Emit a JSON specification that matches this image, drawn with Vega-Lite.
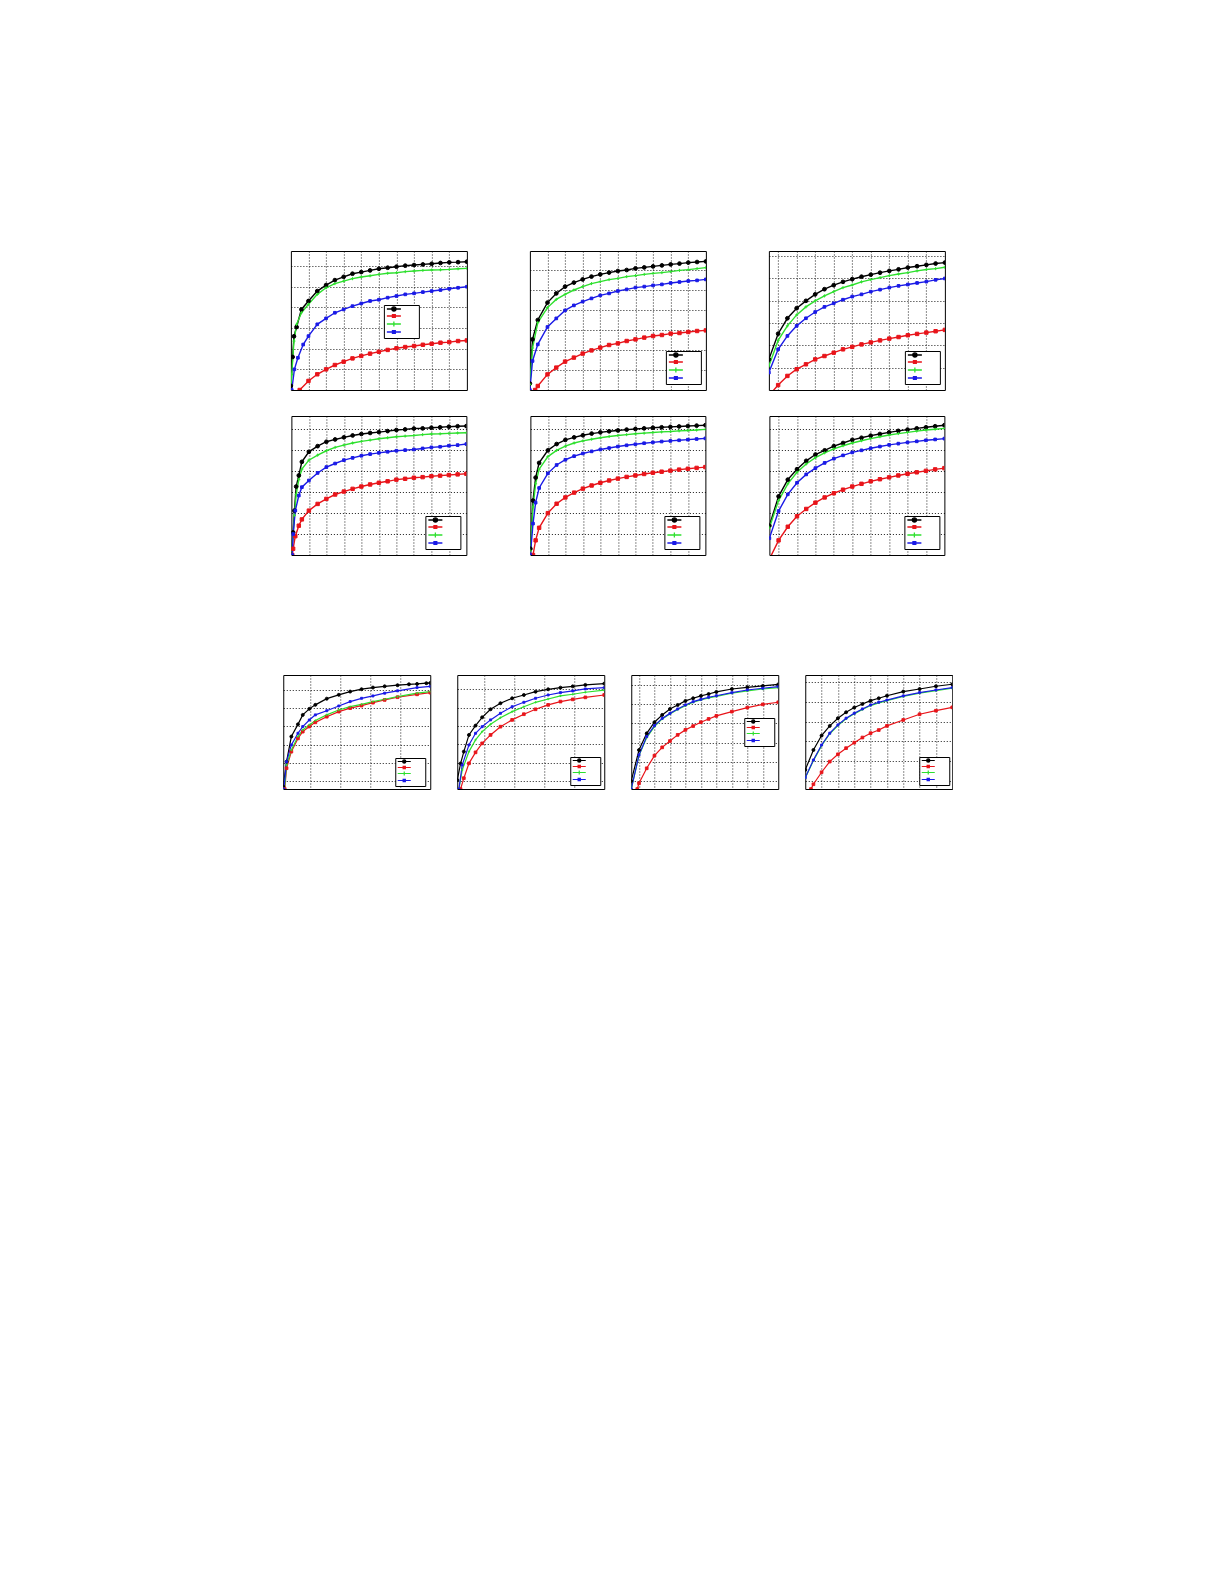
{
"$schema":"https://vega.github.io/schema/vega-lite/v6.json",
"background":"white",
"padding":{"left":282,"top":250,"right":0,"bottom":0},
"data":{"values":[
{"p":1,"s":"a","x":0,"y":0.2},{"p":1,"s":"a","x":0.2,"y":1.6},{"p":1,"s":"a","x":0.35,"y":2.6},{"p":1,"s":"a","x":0.65,"y":3.05},{"p":1,"s":"a","x":1.2,"y":3.9},{"p":1,"s":"a","x":2,"y":4.31},{"p":1,"s":"a","x":3,"y":4.79},{"p":1,"s":"a","x":4,"y":5.08},{"p":1,"s":"a","x":5,"y":5.32},{"p":1,"s":"a","x":6,"y":5.48},{"p":1,"s":"a","x":7,"y":5.63},{"p":1,"s":"a","x":8,"y":5.71},{"p":1,"s":"a","x":9,"y":5.79},{"p":1,"s":"a","x":10,"y":5.87},{"p":1,"s":"a","x":11,"y":5.92},{"p":1,"s":"a","x":12,"y":5.97},{"p":1,"s":"a","x":13,"y":6.02},{"p":1,"s":"a","x":14,"y":6.05},{"p":1,"s":"a","x":15,"y":6.08},{"p":1,"s":"a","x":16,"y":6.11},{"p":1,"s":"a","x":17,"y":6.15},{"p":1,"s":"a","x":18,"y":6.18},{"p":1,"s":"a","x":19,"y":6.19},{"p":1,"s":"a","x":20,"y":6.21},
{"p":1,"s":"b","x":1,"y":0},{"p":1,"s":"b","x":2,"y":0.44},{"p":1,"s":"b","x":3,"y":0.76},{"p":1,"s":"b","x":4,"y":1.0},{"p":1,"s":"b","x":5,"y":1.21},{"p":1,"s":"b","x":6,"y":1.37},{"p":1,"s":"b","x":7,"y":1.53},{"p":1,"s":"b","x":8,"y":1.65},{"p":1,"s":"b","x":9,"y":1.76},{"p":1,"s":"b","x":10,"y":1.85},{"p":1,"s":"b","x":11,"y":1.94},{"p":1,"s":"b","x":12,"y":2.02},{"p":1,"s":"b","x":13,"y":2.08},{"p":1,"s":"b","x":14,"y":2.13},{"p":1,"s":"b","x":15,"y":2.19},{"p":1,"s":"b","x":16,"y":2.24},{"p":1,"s":"b","x":17,"y":2.29},{"p":1,"s":"b","x":18,"y":2.32},{"p":1,"s":"b","x":19,"y":2.37},{"p":1,"s":"b","x":20,"y":2.4},
{"p":1,"s":"c","x":0,"y":0},{"p":1,"s":"c","x":0.1,"y":0.76},{"p":1,"s":"c","x":0.35,"y":2.37},{"p":1,"s":"c","x":0.65,"y":3.18},{"p":1,"s":"c","x":1.2,"y":3.74},{"p":1,"s":"c","x":2,"y":4.15},{"p":1,"s":"c","x":3,"y":4.63},{"p":1,"s":"c","x":4,"y":4.95},{"p":1,"s":"c","x":5,"y":5.15},{"p":1,"s":"c","x":6,"y":5.27},{"p":1,"s":"c","x":7,"y":5.39},{"p":1,"s":"c","x":8,"y":5.47},{"p":1,"s":"c","x":9,"y":5.53},{"p":1,"s":"c","x":10,"y":5.6},{"p":1,"s":"c","x":11,"y":5.65},{"p":1,"s":"c","x":12,"y":5.68},{"p":1,"s":"c","x":13,"y":5.73},{"p":1,"s":"c","x":14,"y":5.76},{"p":1,"s":"c","x":15,"y":5.79},{"p":1,"s":"c","x":16,"y":5.81},{"p":1,"s":"c","x":17,"y":5.82},{"p":1,"s":"c","x":18,"y":5.84},{"p":1,"s":"c","x":19,"y":5.87},{"p":1,"s":"c","x":20,"y":5.89},
{"p":1,"s":"d","x":0.1,"y":0},{"p":1,"s":"d","x":0.4,"y":1.0},{"p":1,"s":"d","x":0.8,"y":1.56},{"p":1,"s":"d","x":1.4,"y":2.2},{"p":1,"s":"d","x":2,"y":2.61},{"p":1,"s":"d","x":3,"y":3.18},{"p":1,"s":"d","x":4,"y":3.47},{"p":1,"s":"d","x":5,"y":3.74},{"p":1,"s":"d","x":6,"y":3.9},{"p":1,"s":"d","x":7,"y":4.06},{"p":1,"s":"d","x":8,"y":4.19},{"p":1,"s":"d","x":9,"y":4.31},{"p":1,"s":"d","x":10,"y":4.37},{"p":1,"s":"d","x":11,"y":4.47},{"p":1,"s":"d","x":12,"y":4.55},{"p":1,"s":"d","x":13,"y":4.63},{"p":1,"s":"d","x":14,"y":4.68},{"p":1,"s":"d","x":15,"y":4.74},{"p":1,"s":"d","x":16,"y":4.79},{"p":1,"s":"d","x":17,"y":4.84},{"p":1,"s":"d","x":18,"y":4.9},{"p":1,"s":"d","x":19,"y":4.95},{"p":1,"s":"d","x":20,"y":5.0},
{"p":2,"s":"a","x":0,"y":0.32},{"p":2,"s":"a","x":0.3,"y":2.53},{"p":2,"s":"a","x":0.9,"y":3.5},{"p":2,"s":"a","x":2,"y":4.37},{"p":2,"s":"a","x":3,"y":4.83},{"p":2,"s":"a","x":4,"y":5.17},{"p":2,"s":"a","x":5,"y":5.37},{"p":2,"s":"a","x":6,"y":5.53},{"p":2,"s":"a","x":7,"y":5.67},{"p":2,"s":"a","x":8,"y":5.78},{"p":2,"s":"a","x":9,"y":5.87},{"p":2,"s":"a","x":10,"y":5.95},{"p":2,"s":"a","x":11,"y":6.0},{"p":2,"s":"a","x":12,"y":6.08},{"p":2,"s":"a","x":13,"y":6.13},{"p":2,"s":"a","x":14,"y":6.18},{"p":2,"s":"a","x":15,"y":6.23},{"p":2,"s":"a","x":16,"y":6.28},{"p":2,"s":"a","x":17,"y":6.32},{"p":2,"s":"a","x":18,"y":6.37},{"p":2,"s":"a","x":19,"y":6.4},{"p":2,"s":"a","x":20,"y":6.43},
{"p":2,"s":"b","x":0.6,"y":0},{"p":2,"s":"b","x":0.9,"y":0.2},{"p":2,"s":"b","x":2,"y":0.78},{"p":2,"s":"b","x":3,"y":1.12},{"p":2,"s":"b","x":4,"y":1.42},{"p":2,"s":"b","x":5,"y":1.62},{"p":2,"s":"b","x":6,"y":1.82},{"p":2,"s":"b","x":7,"y":1.98},{"p":2,"s":"b","x":8,"y":2.12},{"p":2,"s":"b","x":9,"y":2.25},{"p":2,"s":"b","x":10,"y":2.33},{"p":2,"s":"b","x":11,"y":2.45},{"p":2,"s":"b","x":12,"y":2.53},{"p":2,"s":"b","x":13,"y":2.62},{"p":2,"s":"b","x":14,"y":2.7},{"p":2,"s":"b","x":15,"y":2.75},{"p":2,"s":"b","x":16,"y":2.82},{"p":2,"s":"b","x":17,"y":2.85},{"p":2,"s":"b","x":18,"y":2.9},{"p":2,"s":"b","x":19,"y":2.95},{"p":2,"s":"b","x":20,"y":2.98},
{"p":2,"s":"c","x":0,"y":0.28},{"p":2,"s":"c","x":0.3,"y":2.1},{"p":2,"s":"c","x":0.9,"y":3.37},{"p":2,"s":"c","x":2,"y":4.12},{"p":2,"s":"c","x":3,"y":4.53},{"p":2,"s":"c","x":4,"y":4.78},{"p":2,"s":"c","x":5,"y":5.0},{"p":2,"s":"c","x":6,"y":5.17},{"p":2,"s":"c","x":7,"y":5.32},{"p":2,"s":"c","x":8,"y":5.42},{"p":2,"s":"c","x":9,"y":5.52},{"p":2,"s":"c","x":10,"y":5.58},{"p":2,"s":"c","x":11,"y":5.67},{"p":2,"s":"c","x":12,"y":5.72},{"p":2,"s":"c","x":13,"y":5.78},{"p":2,"s":"c","x":14,"y":5.83},{"p":2,"s":"c","x":15,"y":5.87},{"p":2,"s":"c","x":16,"y":5.92},{"p":2,"s":"c","x":17,"y":5.98},{"p":2,"s":"c","x":18,"y":6.02},{"p":2,"s":"c","x":19,"y":6.07},{"p":2,"s":"c","x":20,"y":6.12},
{"p":2,"s":"d","x":0,"y":0},{"p":2,"s":"d","x":0.3,"y":1.45},{"p":2,"s":"d","x":0.9,"y":2.28},{"p":2,"s":"d","x":2,"y":3.15},{"p":2,"s":"d","x":3,"y":3.58},{"p":2,"s":"d","x":4,"y":3.98},{"p":2,"s":"d","x":5,"y":4.23},{"p":2,"s":"d","x":6,"y":4.42},{"p":2,"s":"d","x":7,"y":4.58},{"p":2,"s":"d","x":8,"y":4.73},{"p":2,"s":"d","x":9,"y":4.83},{"p":2,"s":"d","x":10,"y":4.95},{"p":2,"s":"d","x":11,"y":5.03},{"p":2,"s":"d","x":12,"y":5.12},{"p":2,"s":"d","x":13,"y":5.17},{"p":2,"s":"d","x":14,"y":5.23},{"p":2,"s":"d","x":15,"y":5.28},{"p":2,"s":"d","x":16,"y":5.35},{"p":2,"s":"d","x":17,"y":5.4},{"p":2,"s":"d","x":18,"y":5.45},{"p":2,"s":"d","x":19,"y":5.48},{"p":2,"s":"d","x":20,"y":5.53},
{"p":3,"s":"a","x":1,"y":1.37},{"p":3,"s":"a","x":2,"y":2.52},{"p":3,"s":"a","x":3,"y":3.21},{"p":3,"s":"a","x":4,"y":3.66},{"p":3,"s":"a","x":5,"y":3.99},{"p":3,"s":"a","x":6,"y":4.28},{"p":3,"s":"a","x":7,"y":4.51},{"p":3,"s":"a","x":8,"y":4.69},{"p":3,"s":"a","x":9,"y":4.84},{"p":3,"s":"a","x":10,"y":4.96},{"p":3,"s":"a","x":11,"y":5.07},{"p":3,"s":"a","x":12,"y":5.16},{"p":3,"s":"a","x":13,"y":5.25},{"p":3,"s":"a","x":14,"y":5.33},{"p":3,"s":"a","x":15,"y":5.4},{"p":3,"s":"a","x":16,"y":5.48},{"p":3,"s":"a","x":17,"y":5.54},{"p":3,"s":"a","x":18,"y":5.6},{"p":3,"s":"a","x":19,"y":5.66},{"p":3,"s":"a","x":20,"y":5.7},
{"p":3,"s":"b","x":1,"y":-0.25},{"p":3,"s":"b","x":2,"y":0.22},{"p":3,"s":"b","x":3,"y":0.63},{"p":3,"s":"b","x":4,"y":0.93},{"p":3,"s":"b","x":5,"y":1.15},{"p":3,"s":"b","x":6,"y":1.37},{"p":3,"s":"b","x":7,"y":1.52},{"p":3,"s":"b","x":8,"y":1.67},{"p":3,"s":"b","x":9,"y":1.82},{"p":3,"s":"b","x":10,"y":1.93},{"p":3,"s":"b","x":11,"y":2.04},{"p":3,"s":"b","x":12,"y":2.13},{"p":3,"s":"b","x":13,"y":2.22},{"p":3,"s":"b","x":14,"y":2.3},{"p":3,"s":"b","x":15,"y":2.37},{"p":3,"s":"b","x":16,"y":2.45},{"p":3,"s":"b","x":17,"y":2.51},{"p":3,"s":"b","x":18,"y":2.57},{"p":3,"s":"b","x":19,"y":2.63},{"p":3,"s":"b","x":20,"y":2.69},
{"p":3,"s":"c","x":1,"y":1.07},{"p":3,"s":"c","x":2,"y":2.22},{"p":3,"s":"c","x":3,"y":2.87},{"p":3,"s":"c","x":4,"y":3.36},{"p":3,"s":"c","x":5,"y":3.72},{"p":3,"s":"c","x":6,"y":3.99},{"p":3,"s":"c","x":7,"y":4.21},{"p":3,"s":"c","x":8,"y":4.4},{"p":3,"s":"c","x":9,"y":4.58},{"p":3,"s":"c","x":10,"y":4.7},{"p":3,"s":"c","x":11,"y":4.84},{"p":3,"s":"c","x":12,"y":4.94},{"p":3,"s":"c","x":13,"y":5.03},{"p":3,"s":"c","x":14,"y":5.12},{"p":3,"s":"c","x":15,"y":5.19},{"p":3,"s":"c","x":16,"y":5.25},{"p":3,"s":"c","x":17,"y":5.33},{"p":3,"s":"c","x":18,"y":5.39},{"p":3,"s":"c","x":19,"y":5.43},{"p":3,"s":"c","x":20,"y":5.49},
{"p":3,"s":"d","x":1,"y":0.78},{"p":3,"s":"d","x":2,"y":1.82},{"p":3,"s":"d","x":3,"y":2.42},{"p":3,"s":"d","x":4,"y":2.87},{"p":3,"s":"d","x":5,"y":3.21},{"p":3,"s":"d","x":6,"y":3.49},{"p":3,"s":"d","x":7,"y":3.72},{"p":3,"s":"d","x":8,"y":3.88},{"p":3,"s":"d","x":9,"y":4.04},{"p":3,"s":"d","x":10,"y":4.18},{"p":3,"s":"d","x":11,"y":4.28},{"p":3,"s":"d","x":12,"y":4.4},{"p":3,"s":"d","x":13,"y":4.49},{"p":3,"s":"d","x":14,"y":4.58},{"p":3,"s":"d","x":15,"y":4.66},{"p":3,"s":"d","x":16,"y":4.72},{"p":3,"s":"d","x":17,"y":4.79},{"p":3,"s":"d","x":18,"y":4.85},{"p":3,"s":"d","x":19,"y":4.93},{"p":3,"s":"d","x":20,"y":4.99},
{"p":4,"s":"a","x":0,"y":0},{"p":4,"s":"a","x":0.2,"y":1.08},{"p":4,"s":"a","x":0.35,"y":2.12},{"p":4,"s":"a","x":0.55,"y":3.27},{"p":4,"s":"a","x":0.85,"y":3.8},{"p":4,"s":"a","x":1.2,"y":4.45},{"p":4,"s":"a","x":2,"y":4.93},{"p":4,"s":"a","x":3,"y":5.2},{"p":4,"s":"a","x":4,"y":5.41},{"p":4,"s":"a","x":5,"y":5.52},{"p":4,"s":"a","x":6,"y":5.62},{"p":4,"s":"a","x":7,"y":5.71},{"p":4,"s":"a","x":8,"y":5.78},{"p":4,"s":"a","x":9,"y":5.83},{"p":4,"s":"a","x":10,"y":5.87},{"p":4,"s":"a","x":11,"y":5.92},{"p":4,"s":"a","x":12,"y":5.97},{"p":4,"s":"a","x":13,"y":6.0},{"p":4,"s":"a","x":14,"y":6.04},{"p":4,"s":"a","x":15,"y":6.05},{"p":4,"s":"a","x":16,"y":6.08},{"p":4,"s":"a","x":17,"y":6.1},{"p":4,"s":"a","x":18,"y":6.13},{"p":4,"s":"a","x":19,"y":6.15},{"p":4,"s":"a","x":20,"y":6.16},
{"p":4,"s":"b","x":0.1,"y":0},{"p":4,"s":"b","x":0.2,"y":0.3},{"p":4,"s":"b","x":0.45,"y":0.9},{"p":4,"s":"b","x":0.85,"y":1.4},{"p":4,"s":"b","x":1.2,"y":1.7},{"p":4,"s":"b","x":2,"y":2.12},{"p":4,"s":"b","x":3,"y":2.44},{"p":4,"s":"b","x":4,"y":2.68},{"p":4,"s":"b","x":5,"y":2.89},{"p":4,"s":"b","x":6,"y":3.03},{"p":4,"s":"b","x":7,"y":3.16},{"p":4,"s":"b","x":8,"y":3.27},{"p":4,"s":"b","x":9,"y":3.37},{"p":4,"s":"b","x":10,"y":3.45},{"p":4,"s":"b","x":11,"y":3.52},{"p":4,"s":"b","x":12,"y":3.6},{"p":4,"s":"b","x":13,"y":3.64},{"p":4,"s":"b","x":14,"y":3.69},{"p":4,"s":"b","x":15,"y":3.72},{"p":4,"s":"b","x":16,"y":3.76},{"p":4,"s":"b","x":17,"y":3.79},{"p":4,"s":"b","x":18,"y":3.82},{"p":4,"s":"b","x":19,"y":3.85},{"p":4,"s":"b","x":20,"y":3.88},
{"p":4,"s":"c","x":0,"y":0},{"p":4,"s":"c","x":0.2,"y":1.0},{"p":4,"s":"c","x":0.35,"y":1.9},{"p":4,"s":"c","x":0.55,"y":2.9},{"p":4,"s":"c","x":0.85,"y":3.6},{"p":4,"s":"c","x":1.2,"y":4.1},{"p":4,"s":"c","x":2,"y":4.53},{"p":4,"s":"c","x":3,"y":4.77},{"p":4,"s":"c","x":4,"y":4.98},{"p":4,"s":"c","x":5,"y":5.14},{"p":4,"s":"c","x":6,"y":5.25},{"p":4,"s":"c","x":7,"y":5.35},{"p":4,"s":"c","x":8,"y":5.43},{"p":4,"s":"c","x":9,"y":5.49},{"p":4,"s":"c","x":10,"y":5.55},{"p":4,"s":"c","x":11,"y":5.6},{"p":4,"s":"c","x":12,"y":5.65},{"p":4,"s":"c","x":13,"y":5.68},{"p":4,"s":"c","x":14,"y":5.71},{"p":4,"s":"c","x":15,"y":5.75},{"p":4,"s":"c","x":16,"y":5.78},{"p":4,"s":"c","x":17,"y":5.79},{"p":4,"s":"c","x":18,"y":5.81},{"p":4,"s":"c","x":19,"y":5.83},{"p":4,"s":"c","x":20,"y":5.84},
{"p":4,"s":"d","x":0.1,"y":0},{"p":4,"s":"d","x":0.2,"y":1.0},{"p":4,"s":"d","x":0.45,"y":2.12},{"p":4,"s":"d","x":0.85,"y":2.84},{"p":4,"s":"d","x":1.2,"y":3.24},{"p":4,"s":"d","x":2,"y":3.56},{"p":4,"s":"d","x":3,"y":3.92},{"p":4,"s":"d","x":4,"y":4.2},{"p":4,"s":"d","x":5,"y":4.37},{"p":4,"s":"d","x":6,"y":4.53},{"p":4,"s":"d","x":7,"y":4.64},{"p":4,"s":"d","x":8,"y":4.74},{"p":4,"s":"d","x":9,"y":4.82},{"p":4,"s":"d","x":10,"y":4.88},{"p":4,"s":"d","x":11,"y":4.93},{"p":4,"s":"d","x":12,"y":4.98},{"p":4,"s":"d","x":13,"y":5.01},{"p":4,"s":"d","x":14,"y":5.04},{"p":4,"s":"d","x":15,"y":5.09},{"p":4,"s":"d","x":16,"y":5.14},{"p":4,"s":"d","x":17,"y":5.17},{"p":4,"s":"d","x":18,"y":5.22},{"p":4,"s":"d","x":19,"y":5.25},{"p":4,"s":"d","x":20,"y":5.3},
{"p":5,"s":"a","x":0,"y":0.3},{"p":5,"s":"a","x":0.3,"y":2.6},{"p":5,"s":"a","x":0.6,"y":3.7},{"p":5,"s":"a","x":1,"y":4.4},{"p":5,"s":"a","x":2,"y":5.0},{"p":5,"s":"a","x":3,"y":5.3},{"p":5,"s":"a","x":4,"y":5.5},{"p":5,"s":"a","x":5,"y":5.62},{"p":5,"s":"a","x":6,"y":5.72},{"p":5,"s":"a","x":7,"y":5.8},{"p":5,"s":"a","x":8,"y":5.86},{"p":5,"s":"a","x":9,"y":5.91},{"p":5,"s":"a","x":10,"y":5.95},{"p":5,"s":"a","x":11,"y":5.99},{"p":5,"s":"a","x":12,"y":6.02},{"p":5,"s":"a","x":13,"y":6.05},{"p":5,"s":"a","x":14,"y":6.08},{"p":5,"s":"a","x":15,"y":6.1},{"p":5,"s":"a","x":16,"y":6.12},{"p":5,"s":"a","x":17,"y":6.14},{"p":5,"s":"a","x":18,"y":6.16},{"p":5,"s":"a","x":19,"y":6.18},{"p":5,"s":"a","x":20,"y":6.2},
{"p":5,"s":"b","x":0.3,"y":0},{"p":5,"s":"b","x":0.6,"y":0.7},{"p":5,"s":"b","x":1,"y":1.3},{"p":5,"s":"b","x":2,"y":2.0},{"p":5,"s":"b","x":3,"y":2.45},{"p":5,"s":"b","x":4,"y":2.75},{"p":5,"s":"b","x":5,"y":2.98},{"p":5,"s":"b","x":6,"y":3.17},{"p":5,"s":"b","x":7,"y":3.32},{"p":5,"s":"b","x":8,"y":3.45},{"p":5,"s":"b","x":9,"y":3.56},{"p":5,"s":"b","x":10,"y":3.65},{"p":5,"s":"b","x":11,"y":3.73},{"p":5,"s":"b","x":12,"y":3.8},{"p":5,"s":"b","x":13,"y":3.87},{"p":5,"s":"b","x":14,"y":3.93},{"p":5,"s":"b","x":15,"y":3.98},{"p":5,"s":"b","x":16,"y":4.03},{"p":5,"s":"b","x":17,"y":4.08},{"p":5,"s":"b","x":18,"y":4.12},{"p":5,"s":"b","x":19,"y":4.16},{"p":5,"s":"b","x":20,"y":4.2},
{"p":5,"s":"c","x":0,"y":0.2},{"p":5,"s":"c","x":0.3,"y":2.3},{"p":5,"s":"c","x":0.6,"y":3.4},{"p":5,"s":"c","x":1,"y":4.1},{"p":5,"s":"c","x":2,"y":4.7},{"p":5,"s":"c","x":3,"y":5.0},{"p":5,"s":"c","x":4,"y":5.2},{"p":5,"s":"c","x":5,"y":5.35},{"p":5,"s":"c","x":6,"y":5.45},{"p":5,"s":"c","x":7,"y":5.53},{"p":5,"s":"c","x":8,"y":5.6},{"p":5,"s":"c","x":9,"y":5.66},{"p":5,"s":"c","x":10,"y":5.71},{"p":5,"s":"c","x":11,"y":5.75},{"p":5,"s":"c","x":12,"y":5.79},{"p":5,"s":"c","x":13,"y":5.82},{"p":5,"s":"c","x":14,"y":5.85},{"p":5,"s":"c","x":15,"y":5.88},{"p":5,"s":"c","x":16,"y":5.9},{"p":5,"s":"c","x":17,"y":5.93},{"p":5,"s":"c","x":18,"y":5.95},{"p":5,"s":"c","x":19,"y":5.97},{"p":5,"s":"c","x":20,"y":6.0},
{"p":5,"s":"d","x":0,"y":0},{"p":5,"s":"d","x":0.3,"y":1.5},{"p":5,"s":"d","x":0.6,"y":2.5},{"p":5,"s":"d","x":1,"y":3.2},{"p":5,"s":"d","x":2,"y":3.9},{"p":5,"s":"d","x":3,"y":4.3},{"p":5,"s":"d","x":4,"y":4.55},{"p":5,"s":"d","x":5,"y":4.72},{"p":5,"s":"d","x":6,"y":4.85},{"p":5,"s":"d","x":7,"y":4.95},{"p":5,"s":"d","x":8,"y":5.04},{"p":5,"s":"d","x":9,"y":5.11},{"p":5,"s":"d","x":10,"y":5.18},{"p":5,"s":"d","x":11,"y":5.24},{"p":5,"s":"d","x":12,"y":5.29},{"p":5,"s":"d","x":13,"y":5.34},{"p":5,"s":"d","x":14,"y":5.38},{"p":5,"s":"d","x":15,"y":5.42},{"p":5,"s":"d","x":16,"y":5.45},{"p":5,"s":"d","x":17,"y":5.48},{"p":5,"s":"d","x":18,"y":5.51},{"p":5,"s":"d","x":19,"y":5.54},{"p":5,"s":"d","x":20,"y":5.57},
{"p":6,"s":"a","x":1,"y":1.4},{"p":6,"s":"a","x":2,"y":2.8},{"p":6,"s":"a","x":3,"y":3.6},{"p":6,"s":"a","x":4,"y":4.1},{"p":6,"s":"a","x":5,"y":4.5},{"p":6,"s":"a","x":6,"y":4.8},{"p":6,"s":"a","x":7,"y":5.0},{"p":6,"s":"a","x":8,"y":5.2},{"p":6,"s":"a","x":9,"y":5.35},{"p":6,"s":"a","x":10,"y":5.5},{"p":6,"s":"a","x":11,"y":5.6},{"p":6,"s":"a","x":12,"y":5.7},{"p":6,"s":"a","x":13,"y":5.78},{"p":6,"s":"a","x":14,"y":5.86},{"p":6,"s":"a","x":15,"y":5.93},{"p":6,"s":"a","x":16,"y":5.99},{"p":6,"s":"a","x":17,"y":6.05},{"p":6,"s":"a","x":18,"y":6.1},{"p":6,"s":"a","x":19,"y":6.15},{"p":6,"s":"a","x":20,"y":6.2},
{"p":6,"s":"b","x":1,"y":-0.2},{"p":6,"s":"b","x":2,"y":0.7},{"p":6,"s":"b","x":3,"y":1.35},{"p":6,"s":"b","x":4,"y":1.85},{"p":6,"s":"b","x":5,"y":2.2},{"p":6,"s":"b","x":6,"y":2.5},{"p":6,"s":"b","x":7,"y":2.75},{"p":6,"s":"b","x":8,"y":2.95},{"p":6,"s":"b","x":9,"y":3.12},{"p":6,"s":"b","x":10,"y":3.27},{"p":6,"s":"b","x":11,"y":3.4},{"p":6,"s":"b","x":12,"y":3.52},{"p":6,"s":"b","x":13,"y":3.62},{"p":6,"s":"b","x":14,"y":3.71},{"p":6,"s":"b","x":15,"y":3.8},{"p":6,"s":"b","x":16,"y":3.88},{"p":6,"s":"b","x":17,"y":3.95},{"p":6,"s":"b","x":18,"y":4.02},{"p":6,"s":"b","x":19,"y":4.09},{"p":6,"s":"b","x":20,"y":4.15},
{"p":6,"s":"c","x":1,"y":1.3},{"p":6,"s":"c","x":2,"y":2.6},{"p":6,"s":"c","x":3,"y":3.4},{"p":6,"s":"c","x":4,"y":3.95},{"p":6,"s":"c","x":5,"y":4.35},{"p":6,"s":"c","x":6,"y":4.65},{"p":6,"s":"c","x":7,"y":4.88},{"p":6,"s":"c","x":8,"y":5.07},{"p":6,"s":"c","x":9,"y":5.22},{"p":6,"s":"c","x":10,"y":5.35},{"p":6,"s":"c","x":11,"y":5.46},{"p":6,"s":"c","x":12,"y":5.56},{"p":6,"s":"c","x":13,"y":5.65},{"p":6,"s":"c","x":14,"y":5.73},{"p":6,"s":"c","x":15,"y":5.8},{"p":6,"s":"c","x":16,"y":5.86},{"p":6,"s":"c","x":17,"y":5.92},{"p":6,"s":"c","x":18,"y":5.97},{"p":6,"s":"c","x":19,"y":6.01},{"p":6,"s":"c","x":20,"y":6.05},
{"p":6,"s":"d","x":1,"y":0.8},{"p":6,"s":"d","x":2,"y":2.1},{"p":6,"s":"d","x":3,"y":2.9},{"p":6,"s":"d","x":4,"y":3.45},{"p":6,"s":"d","x":5,"y":3.85},{"p":6,"s":"d","x":6,"y":4.15},{"p":6,"s":"d","x":7,"y":4.4},{"p":6,"s":"d","x":8,"y":4.6},{"p":6,"s":"d","x":9,"y":4.76},{"p":6,"s":"d","x":10,"y":4.9},{"p":6,"s":"d","x":11,"y":5.0},{"p":6,"s":"d","x":12,"y":5.1},{"p":6,"s":"d","x":13,"y":5.18},{"p":6,"s":"d","x":14,"y":5.26},{"p":6,"s":"d","x":15,"y":5.32},{"p":6,"s":"d","x":16,"y":5.38},{"p":6,"s":"d","x":17,"y":5.43},{"p":6,"s":"d","x":18,"y":5.48},{"p":6,"s":"d","x":19,"y":5.52},{"p":6,"s":"d","x":20,"y":5.56},
{"p":7,"s":"a","x":1,"y":-0.31},{"p":7,"s":"a","x":2.1,"y":1.06},{"p":7,"s":"a","x":3.7,"y":2.44},{"p":7,"s":"a","x":5.9,"y":3.11},{"p":7,"s":"a","x":7.5,"y":3.63},{"p":7,"s":"a","x":9.7,"y":3.96},{"p":7,"s":"a","x":11.7,"y":4.18},{"p":7,"s":"a","x":15.5,"y":4.52},{"p":7,"s":"a","x":19.5,"y":4.73},{"p":7,"s":"a","x":23.3,"y":4.91},{"p":7,"s":"a","x":27.1,"y":5.04},{"p":7,"s":"a","x":30.9,"y":5.13},{"p":7,"s":"a","x":34.8,"y":5.2},{"p":7,"s":"a","x":39.1,"y":5.26},{"p":7,"s":"a","x":42.9,"y":5.31},{"p":7,"s":"a","x":45.6,"y":5.33},{"p":7,"s":"a","x":48.7,"y":5.37},{"p":7,"s":"a","x":50,"y":5.38},
{"p":7,"s":"b","x":1.5,"y":-0.44},{"p":7,"s":"b","x":2.1,"y":0.7},{"p":7,"s":"b","x":3.7,"y":1.61},{"p":7,"s":"b","x":5.9,"y":2.34},{"p":7,"s":"b","x":7.5,"y":2.71},{"p":7,"s":"b","x":9.7,"y":2.99},{"p":7,"s":"b","x":11.7,"y":3.22},{"p":7,"s":"b","x":15.5,"y":3.53},{"p":7,"s":"b","x":19.5,"y":3.81},{"p":7,"s":"b","x":23.3,"y":4.0},{"p":7,"s":"b","x":27.1,"y":4.14},{"p":7,"s":"b","x":30.9,"y":4.3},{"p":7,"s":"b","x":34.8,"y":4.45},{"p":7,"s":"b","x":39.1,"y":4.6},{"p":7,"s":"b","x":45.6,"y":4.76},{"p":7,"s":"b","x":50,"y":4.85},
{"p":7,"s":"c","x":1.4,"y":-0.44},{"p":7,"s":"c","x":2.1,"y":0.88},{"p":7,"s":"c","x":3.7,"y":1.7},{"p":7,"s":"c","x":5.9,"y":2.44},{"p":7,"s":"c","x":7.5,"y":2.8},{"p":7,"s":"c","x":9.7,"y":3.08},{"p":7,"s":"c","x":11.7,"y":3.32},{"p":7,"s":"c","x":15.5,"y":3.63},{"p":7,"s":"c","x":19.5,"y":3.9},{"p":7,"s":"c","x":23.3,"y":4.08},{"p":7,"s":"c","x":27.1,"y":4.21},{"p":7,"s":"c","x":30.9,"y":4.36},{"p":7,"s":"c","x":34.8,"y":4.49},{"p":7,"s":"c","x":39.1,"y":4.63},{"p":7,"s":"c","x":45.6,"y":4.82},{"p":7,"s":"c","x":50,"y":4.91},
{"p":7,"s":"d","x":1.2,"y":-0.44},{"p":7,"s":"d","x":2.1,"y":1.06},{"p":7,"s":"d","x":3.7,"y":1.98},{"p":7,"s":"d","x":5.9,"y":2.62},{"p":7,"s":"d","x":7.5,"y":2.99},{"p":7,"s":"d","x":9.7,"y":3.35},{"p":7,"s":"d","x":11.7,"y":3.63},{"p":7,"s":"d","x":15.5,"y":3.86},{"p":7,"s":"d","x":19.5,"y":4.12},{"p":7,"s":"d","x":23.3,"y":4.36},{"p":7,"s":"d","x":27.1,"y":4.54},{"p":7,"s":"d","x":30.9,"y":4.67},{"p":7,"s":"d","x":34.8,"y":4.82},{"p":7,"s":"d","x":39.1,"y":4.95},{"p":7,"s":"d","x":45.6,"y":5.13},{"p":7,"s":"d","x":50,"y":5.2},
{"p":8,"s":"a","x":1,"y":0.05},{"p":8,"s":"a","x":2.1,"y":0.95},{"p":8,"s":"a","x":3.2,"y":1.6},{"p":8,"s":"a","x":4.9,"y":2.51},{"p":8,"s":"a","x":7.1,"y":3.02},{"p":8,"s":"a","x":9.3,"y":3.47},{"p":8,"s":"a","x":12.1,"y":3.91},{"p":8,"s":"a","x":15.4,"y":4.24},{"p":8,"s":"a","x":19.3,"y":4.51},{"p":8,"s":"a","x":23.2,"y":4.69},{"p":8,"s":"a","x":27.1,"y":4.87},{"p":8,"s":"a","x":31.3,"y":5.0},{"p":8,"s":"a","x":35.4,"y":5.09},{"p":8,"s":"a","x":39.5,"y":5.16},{"p":8,"s":"a","x":43.7,"y":5.24},{"p":8,"s":"a","x":50,"y":5.31},
{"p":8,"s":"b","x":2.1,"y":-0.44},{"p":8,"s":"b","x":3.2,"y":0.15},{"p":8,"s":"b","x":4.9,"y":0.96},{"p":8,"s":"b","x":7.1,"y":1.56},{"p":8,"s":"b","x":9.3,"y":2.05},{"p":8,"s":"b","x":12.1,"y":2.51},{"p":8,"s":"b","x":15.4,"y":2.96},{"p":8,"s":"b","x":19.3,"y":3.33},{"p":8,"s":"b","x":23.2,"y":3.64},{"p":8,"s":"b","x":27.1,"y":3.91},{"p":8,"s":"b","x":31.3,"y":4.15},{"p":8,"s":"b","x":35.4,"y":4.33},{"p":8,"s":"b","x":39.5,"y":4.45},{"p":8,"s":"b","x":43.7,"y":4.56},{"p":8,"s":"b","x":50,"y":4.69},
{"p":8,"s":"c","x":1.55,"y":-0.44},{"p":8,"s":"c","x":2.66,"y":0.6},{"p":8,"s":"c","x":4.9,"y":1.6},{"p":8,"s":"c","x":7.1,"y":2.24},{"p":8,"s":"c","x":9.3,"y":2.69},{"p":8,"s":"c","x":12.1,"y":3.09},{"p":8,"s":"c","x":15.4,"y":3.45},{"p":8,"s":"c","x":19.3,"y":3.78},{"p":8,"s":"c","x":23.2,"y":4.05},{"p":8,"s":"c","x":27.1,"y":4.29},{"p":8,"s":"c","x":31.3,"y":4.47},{"p":8,"s":"c","x":35.4,"y":4.64},{"p":8,"s":"c","x":39.5,"y":4.73},{"p":8,"s":"c","x":43.7,"y":4.84},{"p":8,"s":"c","x":50,"y":4.95},
{"p":8,"s":"d","x":1.55,"y":-0.44},{"p":8,"s":"d","x":2.66,"y":0.87},{"p":8,"s":"d","x":4.9,"y":1.96},{"p":8,"s":"d","x":7.1,"y":2.6},{"p":8,"s":"d","x":9.3,"y":2.96},{"p":8,"s":"d","x":12.1,"y":3.33},{"p":8,"s":"d","x":15.4,"y":3.69},{"p":8,"s":"d","x":19.3,"y":4.05},{"p":8,"s":"d","x":23.2,"y":4.29},{"p":8,"s":"d","x":27.1,"y":4.51},{"p":8,"s":"d","x":31.3,"y":4.69},{"p":8,"s":"d","x":35.4,"y":4.82},{"p":8,"s":"d","x":39.5,"y":4.91},{"p":8,"s":"d","x":43.7,"y":5.02},{"p":8,"s":"d","x":50,"y":5.09},
{"p":9,"s":"a","x":1,"y":0},{"p":9,"s":"a","x":2,"y":1.61},{"p":9,"s":"a","x":3,"y":2.48},{"p":9,"s":"a","x":4,"y":3.06},{"p":9,"s":"a","x":5,"y":3.44},{"p":9,"s":"a","x":6,"y":3.75},{"p":9,"s":"a","x":7,"y":3.96},{"p":9,"s":"a","x":8,"y":4.17},{"p":9,"s":"a","x":9,"y":4.31},{"p":9,"s":"a","x":10,"y":4.43},{"p":9,"s":"a","x":11,"y":4.53},{"p":9,"s":"a","x":12,"y":4.64},{"p":9,"s":"a","x":14,"y":4.79},{"p":9,"s":"a","x":16,"y":4.88},{"p":9,"s":"a","x":18,"y":4.95},{"p":9,"s":"a","x":20,"y":5.03},
{"p":9,"s":"b","x":1.78,"y":-0.42},{"p":9,"s":"b","x":2,"y":-0.12},{"p":9,"s":"b","x":3,"y":0.66},{"p":9,"s":"b","x":4,"y":1.32},{"p":9,"s":"b","x":5,"y":1.75},{"p":9,"s":"b","x":6,"y":2.08},{"p":9,"s":"b","x":7,"y":2.4},{"p":9,"s":"b","x":8,"y":2.66},{"p":9,"s":"b","x":9,"y":2.86},{"p":9,"s":"b","x":10,"y":3.06},{"p":9,"s":"b","x":11,"y":3.23},{"p":9,"s":"b","x":12,"y":3.39},{"p":9,"s":"b","x":14,"y":3.61},{"p":9,"s":"b","x":16,"y":3.82},{"p":9,"s":"b","x":18,"y":3.99},{"p":9,"s":"b","x":20,"y":4.1},
{"p":9,"s":"c","x":1,"y":-0.42},{"p":9,"s":"c","x":2,"y":1.32},{"p":9,"s":"c","x":3,"y":2.26},{"p":9,"s":"c","x":4,"y":2.83},{"p":9,"s":"c","x":5,"y":3.23},{"p":9,"s":"c","x":6,"y":3.49},{"p":9,"s":"c","x":7,"y":3.72},{"p":9,"s":"c","x":8,"y":3.92},{"p":9,"s":"c","x":9,"y":4.1},{"p":9,"s":"c","x":10,"y":4.22},{"p":9,"s":"c","x":11,"y":4.32},{"p":9,"s":"c","x":12,"y":4.41},{"p":9,"s":"c","x":14,"y":4.57},{"p":9,"s":"c","x":16,"y":4.69},{"p":9,"s":"c","x":18,"y":4.79},{"p":9,"s":"c","x":20,"y":4.86},
{"p":9,"s":"d","x":1,"y":-0.42},{"p":9,"s":"d","x":2,"y":1.35},{"p":9,"s":"d","x":3,"y":2.31},{"p":9,"s":"d","x":4,"y":2.88},{"p":9,"s":"d","x":5,"y":3.26},{"p":9,"s":"d","x":6,"y":3.52},{"p":9,"s":"d","x":7,"y":3.75},{"p":9,"s":"d","x":8,"y":3.96},{"p":9,"s":"d","x":9,"y":4.13},{"p":9,"s":"d","x":10,"y":4.25},{"p":9,"s":"d","x":11,"y":4.36},{"p":9,"s":"d","x":12,"y":4.44},{"p":9,"s":"d","x":14,"y":4.6},{"p":9,"s":"d","x":16,"y":4.74},{"p":9,"s":"d","x":18,"y":4.83},{"p":9,"s":"d","x":20,"y":4.91},
{"p":10,"s":"a","x":1,"y":0.56},{"p":10,"s":"a","x":1.5,"y":1.57},{"p":10,"s":"a","x":2,"y":2.3},{"p":10,"s":"a","x":2.5,"y":2.79},{"p":10,"s":"a","x":3,"y":3.18},{"p":10,"s":"a","x":3.5,"y":3.48},{"p":10,"s":"a","x":4,"y":3.72},{"p":10,"s":"a","x":4.5,"y":3.9},{"p":10,"s":"a","x":5,"y":4.07},{"p":10,"s":"a","x":5.5,"y":4.19},{"p":10,"s":"a","x":6,"y":4.32},{"p":10,"s":"a","x":7,"y":4.53},{"p":10,"s":"a","x":8,"y":4.66},{"p":10,"s":"a","x":9,"y":4.8},{"p":10,"s":"a","x":10,"y":4.9},
{"p":10,"s":"b","x":1.35,"y":-0.41},{"p":10,"s":"b","x":1.5,"y":-0.17},{"p":10,"s":"b","x":2,"y":0.44},{"p":10,"s":"b","x":2.5,"y":0.98},{"p":10,"s":"b","x":3,"y":1.35},{"p":10,"s":"b","x":3.5,"y":1.66},{"p":10,"s":"b","x":4,"y":1.94},{"p":10,"s":"b","x":4.5,"y":2.2},{"p":10,"s":"b","x":5,"y":2.42},{"p":10,"s":"b","x":5.5,"y":2.58},{"p":10,"s":"b","x":6,"y":2.79},{"p":10,"s":"b","x":7,"y":3.09},{"p":10,"s":"b","x":8,"y":3.38},{"p":10,"s":"b","x":9,"y":3.56},{"p":10,"s":"b","x":10,"y":3.73},
{"p":10,"s":"c","x":1,"y":0.15},{"p":10,"s":"c","x":1.5,"y":1.03},{"p":10,"s":"c","x":2,"y":1.79},{"p":10,"s":"c","x":2.5,"y":2.39},{"p":10,"s":"c","x":3,"y":2.81},{"p":10,"s":"c","x":3.5,"y":3.15},{"p":10,"s":"c","x":4,"y":3.4},{"p":10,"s":"c","x":4.5,"y":3.62},{"p":10,"s":"c","x":5,"y":3.82},{"p":10,"s":"c","x":5.5,"y":3.96},{"p":10,"s":"c","x":6,"y":4.07},{"p":10,"s":"c","x":7,"y":4.28},{"p":10,"s":"c","x":8,"y":4.45},{"p":10,"s":"c","x":9,"y":4.58},{"p":10,"s":"c","x":10,"y":4.7},
{"p":10,"s":"d","x":1,"y":0.17},{"p":10,"s":"d","x":1.5,"y":1.06},{"p":10,"s":"d","x":2,"y":1.82},{"p":10,"s":"d","x":2.5,"y":2.42},{"p":10,"s":"d","x":3,"y":2.84},{"p":10,"s":"d","x":3.5,"y":3.18},{"p":10,"s":"d","x":4,"y":3.43},{"p":10,"s":"d","x":4.5,"y":3.65},{"p":10,"s":"d","x":5,"y":3.85},{"p":10,"s":"d","x":5.5,"y":3.99},{"p":10,"s":"d","x":6,"y":4.1},{"p":10,"s":"d","x":7,"y":4.31},{"p":10,"s":"d","x":8,"y":4.48},{"p":10,"s":"d","x":9,"y":4.61},{"p":10,"s":"d","x":10,"y":4.73}
]},
"config":{
 "view":{"stroke":"#000000","strokeWidth":1},
 "axis":{"title":null,"labels":false,"ticks":false,"domain":false,"grid":true,"gridColor":"#000000","gridDash":[1,2],"gridWidth":0.9,"gridOpacity":1},
 "range":{"category":["#000000","#e8141a","#2ee02e","#1a1ae6"],"symbol":["circle","square","M-1,0H1M0,-1V1","square"]},
 "legend":{"orient":"none","fillColor":"#ffffff","strokeColor":"#000000","padding":2,"labelFontSize":4,"rowPadding":-2,"symbolSize":4,"labelOffset":0}
},
"resolve":{"scale":{"x":"independent","y":"independent","color":"independent","fill":"independent","shape":"independent","size":"independent"},"legend":{"color":"independent"}},
"spacing":118,"center":true,
"vconcat":[
{"spacing":24,"center":true,
 "resolve":{"scale":{"x":"independent","y":"independent","color":"independent","fill":"independent","shape":"independent","size":"independent"},"legend":{"color":"independent"}},
 "vconcat":[
 {"spacing":63,"bounds":"flush",
  "resolve":{"scale":{"x":"independent","y":"independent","color":"independent","fill":"independent","shape":"independent","size":"independent"},"legend":{"color":"independent"}},
  "hconcat":[
  {"width":176,"height":139,"transform":[{"filter":"datum.p==1"}],
   "encoding":{"x":{"field":"x","type":"quantitative","scale":{"domain":[0,20],"nice":false,"zero":false},"axis":{"values":[2,4,6,8,10,12,14,16,18]}},"y":{"field":"y","type":"quantitative","scale":{"domain":[0,6.73],"nice":false,"zero":false},"axis":{"values":[1,2,3,4,5,6]}}},
   "layer":[
    {"mark":{"type":"line","strokeWidth":1.4,"clip":true},"encoding":{"color":{"field":"s","type":"nominal","legend":{"title":null,"legendX":93,"legendY":54,"labelExpr":"''","encode":{"symbols":{"update":{"shape":{"signal":"datum.value=='a'?'M-1,0H13M8.1,0A2.1,2.1 0 1,1 3.9,0A2.1,2.1 0 1,1 8.1,0ZM25.5,0':datum.value=='c'?'M-1,0H13M6,-2.5V2.5M25.5,0':'M-1,0H13M4.6,-1.4H7.4V1.4H4.6ZM25.5,0'"},"fill":{"signal":"datum.value=='a'?'#000000':datum.value=='b'?'#e8141a':datum.value=='c'?'#2ee02e':'#1a1ae6'"},"stroke":{"signal":"datum.value=='a'?'#000000':datum.value=='b'?'#e8141a':datum.value=='c'?'#2ee02e':'#1a1ae6'"},"strokeWidth":{"value":1.3},"opacity":{"value":1}}}}}}}},
    {"mark":{"type":"point","filled":false,"strokeWidth":1,"opacity":1,"clip":true},"encoding":{"color":{"field":"s","type":"nominal"},"fill":{"field":"s","type":"nominal","legend":null},"shape":{"field":"s","type":"nominal","legend":null},"size":{"field":"s","type":"ordinal","scale":{"range":[14,7,25,7]},"legend":null}}}
   ]},
  {"width":176,"height":139,"transform":[{"filter":"datum.p==2"}],
   "encoding":{"x":{"field":"x","type":"quantitative","scale":{"domain":[0,20],"nice":false,"zero":false},"axis":{"values":[2,4,6,8,10,12,14,16,18]}},"y":{"field":"y","type":"quantitative","scale":{"domain":[0,6.95],"nice":false,"zero":false},"axis":{"values":[1,2,3,4,5,6]}}},
   "layer":[
    {"mark":{"type":"line","strokeWidth":1.4,"clip":true},"encoding":{"color":{"field":"s","type":"nominal","legend":{"title":null,"legendX":136,"legendY":100,"labelExpr":"''","encode":{"symbols":{"update":{"shape":{"signal":"datum.value=='a'?'M-1,0H13M8.1,0A2.1,2.1 0 1,1 3.9,0A2.1,2.1 0 1,1 8.1,0ZM25.5,0':datum.value=='c'?'M-1,0H13M6,-2.5V2.5M25.5,0':'M-1,0H13M4.6,-1.4H7.4V1.4H4.6ZM25.5,0'"},"fill":{"signal":"datum.value=='a'?'#000000':datum.value=='b'?'#e8141a':datum.value=='c'?'#2ee02e':'#1a1ae6'"},"stroke":{"signal":"datum.value=='a'?'#000000':datum.value=='b'?'#e8141a':datum.value=='c'?'#2ee02e':'#1a1ae6'"},"strokeWidth":{"value":1.3},"opacity":{"value":1}}}}}}}},
    {"mark":{"type":"point","filled":false,"strokeWidth":1,"opacity":1,"clip":true},"encoding":{"color":{"field":"s","type":"nominal"},"fill":{"field":"s","type":"nominal","legend":null},"shape":{"field":"s","type":"nominal","legend":null},"size":{"field":"s","type":"ordinal","scale":{"range":[14,7,25,7]},"legend":null}}}
   ]},
  {"width":176,"height":139,"transform":[{"filter":"datum.p==3"}],
   "encoding":{"x":{"field":"x","type":"quantitative","scale":{"domain":[1,20],"nice":false,"zero":false},"axis":{"values":[2,4,6,8,10,12,14,16,18]}},"y":{"field":"y","type":"quantitative","scale":{"domain":[0,6.22],"nice":false,"zero":false},"axis":{"values":[1,2,3,4,5,6]}}},
   "layer":[
    {"mark":{"type":"line","strokeWidth":1.4,"clip":true},"encoding":{"color":{"field":"s","type":"nominal","legend":{"title":null,"legendX":136,"legendY":100,"labelExpr":"''","encode":{"symbols":{"update":{"shape":{"signal":"datum.value=='a'?'M-1,0H13M8.1,0A2.1,2.1 0 1,1 3.9,0A2.1,2.1 0 1,1 8.1,0ZM25.5,0':datum.value=='c'?'M-1,0H13M6,-2.5V2.5M25.5,0':'M-1,0H13M4.6,-1.4H7.4V1.4H4.6ZM25.5,0'"},"fill":{"signal":"datum.value=='a'?'#000000':datum.value=='b'?'#e8141a':datum.value=='c'?'#2ee02e':'#1a1ae6'"},"stroke":{"signal":"datum.value=='a'?'#000000':datum.value=='b'?'#e8141a':datum.value=='c'?'#2ee02e':'#1a1ae6'"},"strokeWidth":{"value":1.3},"opacity":{"value":1}}}}}}}},
    {"mark":{"type":"point","filled":false,"strokeWidth":1,"opacity":1,"clip":true},"encoding":{"color":{"field":"s","type":"nominal"},"fill":{"field":"s","type":"nominal","legend":null},"shape":{"field":"s","type":"nominal","legend":null},"size":{"field":"s","type":"ordinal","scale":{"range":[14,7,25,7]},"legend":null}}}
   ]}
  ]},
 {"spacing":64,"bounds":"flush",
  "resolve":{"scale":{"x":"independent","y":"independent","color":"independent","fill":"independent","shape":"independent","size":"independent"},"legend":{"color":"independent"}},
  "hconcat":[
  {"width":175,"height":139,"transform":[{"filter":"datum.p==4"}],
   "encoding":{"x":{"field":"x","type":"quantitative","scale":{"domain":[0,20],"nice":false,"zero":false},"axis":{"values":[2,4,6,8,10,12,14,16,18]}},"y":{"field":"y","type":"quantitative","scale":{"domain":[0,6.64],"nice":false,"zero":false},"axis":{"values":[1,2,3,4,5,6]}}},
   "layer":[
    {"mark":{"type":"line","strokeWidth":1.4,"clip":true},"encoding":{"color":{"field":"s","type":"nominal","legend":{"title":null,"legendX":134,"legendY":100,"labelExpr":"''","encode":{"symbols":{"update":{"shape":{"signal":"datum.value=='a'?'M-1,0H13M8.1,0A2.1,2.1 0 1,1 3.9,0A2.1,2.1 0 1,1 8.1,0ZM25.5,0':datum.value=='c'?'M-1,0H13M6,-2.5V2.5M25.5,0':'M-1,0H13M4.6,-1.4H7.4V1.4H4.6ZM25.5,0'"},"fill":{"signal":"datum.value=='a'?'#000000':datum.value=='b'?'#e8141a':datum.value=='c'?'#2ee02e':'#1a1ae6'"},"stroke":{"signal":"datum.value=='a'?'#000000':datum.value=='b'?'#e8141a':datum.value=='c'?'#2ee02e':'#1a1ae6'"},"strokeWidth":{"value":1.3},"opacity":{"value":1}}}}}}}},
    {"mark":{"type":"point","filled":false,"strokeWidth":1,"opacity":1,"clip":true},"encoding":{"color":{"field":"s","type":"nominal"},"fill":{"field":"s","type":"nominal","legend":null},"shape":{"field":"s","type":"nominal","legend":null},"size":{"field":"s","type":"ordinal","scale":{"range":[14,7,25,7]},"legend":null}}}
   ]},
  {"width":175,"height":139,"transform":[{"filter":"datum.p==5"}],
   "encoding":{"x":{"field":"x","type":"quantitative","scale":{"domain":[0,20],"nice":false,"zero":false},"axis":{"values":[2,4,6,8,10,12,14,16,18]}},"y":{"field":"y","type":"quantitative","scale":{"domain":[0,6.64],"nice":false,"zero":false},"axis":{"values":[1,2,3,4,5,6]}}},
   "layer":[
    {"mark":{"type":"line","strokeWidth":1.4,"clip":true},"encoding":{"color":{"field":"s","type":"nominal","legend":{"title":null,"legendX":134,"legendY":100,"labelExpr":"''","encode":{"symbols":{"update":{"shape":{"signal":"datum.value=='a'?'M-1,0H13M8.1,0A2.1,2.1 0 1,1 3.9,0A2.1,2.1 0 1,1 8.1,0ZM25.5,0':datum.value=='c'?'M-1,0H13M6,-2.5V2.5M25.5,0':'M-1,0H13M4.6,-1.4H7.4V1.4H4.6ZM25.5,0'"},"fill":{"signal":"datum.value=='a'?'#000000':datum.value=='b'?'#e8141a':datum.value=='c'?'#2ee02e':'#1a1ae6'"},"stroke":{"signal":"datum.value=='a'?'#000000':datum.value=='b'?'#e8141a':datum.value=='c'?'#2ee02e':'#1a1ae6'"},"strokeWidth":{"value":1.3},"opacity":{"value":1}}}}}}}},
    {"mark":{"type":"point","filled":false,"strokeWidth":1,"opacity":1,"clip":true},"encoding":{"color":{"field":"s","type":"nominal"},"fill":{"field":"s","type":"nominal","legend":null},"shape":{"field":"s","type":"nominal","legend":null},"size":{"field":"s","type":"ordinal","scale":{"range":[14,7,25,7]},"legend":null}}}
   ]},
  {"width":175,"height":139,"transform":[{"filter":"datum.p==6"}],
   "encoding":{"x":{"field":"x","type":"quantitative","scale":{"domain":[1,20],"nice":false,"zero":false},"axis":{"values":[2,4,6,8,10,12,14,16,18]}},"y":{"field":"y","type":"quantitative","scale":{"domain":[0,6.64],"nice":false,"zero":false},"axis":{"values":[1,2,3,4,5,6]}}},
   "layer":[
    {"mark":{"type":"line","strokeWidth":1.4,"clip":true},"encoding":{"color":{"field":"s","type":"nominal","legend":{"title":null,"legendX":135,"legendY":100,"labelExpr":"''","encode":{"symbols":{"update":{"shape":{"signal":"datum.value=='a'?'M-1,0H13M8.1,0A2.1,2.1 0 1,1 3.9,0A2.1,2.1 0 1,1 8.1,0ZM25.5,0':datum.value=='c'?'M-1,0H13M6,-2.5V2.5M25.5,0':'M-1,0H13M4.6,-1.4H7.4V1.4H4.6ZM25.5,0'"},"fill":{"signal":"datum.value=='a'?'#000000':datum.value=='b'?'#e8141a':datum.value=='c'?'#2ee02e':'#1a1ae6'"},"stroke":{"signal":"datum.value=='a'?'#000000':datum.value=='b'?'#e8141a':datum.value=='c'?'#2ee02e':'#1a1ae6'"},"strokeWidth":{"value":1.3},"opacity":{"value":1}}}}}}}},
    {"mark":{"type":"point","filled":false,"strokeWidth":1,"opacity":1,"clip":true},"encoding":{"color":{"field":"s","type":"nominal"},"fill":{"field":"s","type":"nominal","legend":null},"shape":{"field":"s","type":"nominal","legend":null},"size":{"field":"s","type":"ordinal","scale":{"range":[14,7,25,7]},"legend":null}}}
   ]}
  ]}
 ]},
{"spacing":27,"bounds":"flush",
 "resolve":{"scale":{"x":"independent","y":"independent","color":"independent","fill":"independent","shape":"independent","size":"independent"},"legend":{"color":"independent"}},
 "hconcat":[
  {"width":147,"height":114,"transform":[{"filter":"datum.p==7"}],
   "encoding":{"x":{"field":"x","type":"quantitative","scale":{"domain":[1,50],"nice":false,"zero":false},"axis":{"values":[10,20,30,40]}},"y":{"field":"y","type":"quantitative","scale":{"domain":[-0.44,5.82],"nice":false,"zero":false},"axis":{"values":[0,1,2,3,4,5]}}},
   "layer":[
    {"mark":{"type":"line","strokeWidth":1.2,"clip":true},"encoding":{"color":{"field":"s","type":"nominal","legend":{"title":null,"legendX":112,"legendY":83,"rowPadding":-3.5,"padding":1.5,"labelExpr":"''","encode":{"symbols":{"update":{"shape":{"signal":"datum.value=='a'?'M-1,0H12M7.1,0A1.6,1.6 0 1,1 3.9,0A1.6,1.6 0 1,1 7.1,0ZM22.3,0':datum.value=='c'?'M-1,0H12M5.5,-2V2M22.3,0':'M-1,0H12M4.4,-1.1H6.6V1.1H4.4ZM22.3,0'"},"fill":{"signal":"datum.value=='a'?'#000000':datum.value=='b'?'#e8141a':datum.value=='c'?'#2ee02e':'#1a1ae6'"},"stroke":{"signal":"datum.value=='a'?'#000000':datum.value=='b'?'#e8141a':datum.value=='c'?'#2ee02e':'#1a1ae6'"},"strokeWidth":{"value":1.2},"opacity":{"value":1}}}}}}}},
    {"mark":{"type":"point","filled":false,"strokeWidth":0.9,"opacity":1,"clip":true},"encoding":{"color":{"field":"s","type":"nominal"},"fill":{"field":"s","type":"nominal","legend":null},"shape":{"field":"s","type":"nominal","legend":null},"size":{"field":"s","type":"ordinal","scale":{"range":[9,4,16,4]},"legend":null}}}
   ]},
  {"width":147,"height":114,"transform":[{"filter":"datum.p==8"}],
   "encoding":{"x":{"field":"x","type":"quantitative","scale":{"domain":[1,50],"nice":false,"zero":false},"axis":{"values":[10,20,30,40]}},"y":{"field":"y","type":"quantitative","scale":{"domain":[-0.44,5.78],"nice":false,"zero":false},"axis":{"values":[0,1,2,3,4,5]}}},
   "layer":[
    {"mark":{"type":"line","strokeWidth":1.2,"clip":true},"encoding":{"color":{"field":"s","type":"nominal","legend":{"title":null,"legendX":113,"legendY":82,"rowPadding":-3.5,"padding":1.5,"labelExpr":"''","encode":{"symbols":{"update":{"shape":{"signal":"datum.value=='a'?'M-1,0H12M7.1,0A1.6,1.6 0 1,1 3.9,0A1.6,1.6 0 1,1 7.1,0ZM22.3,0':datum.value=='c'?'M-1,0H12M5.5,-2V2M22.3,0':'M-1,0H12M4.4,-1.1H6.6V1.1H4.4ZM22.3,0'"},"fill":{"signal":"datum.value=='a'?'#000000':datum.value=='b'?'#e8141a':datum.value=='c'?'#2ee02e':'#1a1ae6'"},"stroke":{"signal":"datum.value=='a'?'#000000':datum.value=='b'?'#e8141a':datum.value=='c'?'#2ee02e':'#1a1ae6'"},"strokeWidth":{"value":1.2},"opacity":{"value":1}}}}}}}},
    {"mark":{"type":"point","filled":false,"strokeWidth":0.9,"opacity":1,"clip":true},"encoding":{"color":{"field":"s","type":"nominal"},"fill":{"field":"s","type":"nominal","legend":null},"shape":{"field":"s","type":"nominal","legend":null},"size":{"field":"s","type":"ordinal","scale":{"range":[9,4,16,4]},"legend":null}}}
   ]},
  {"width":147,"height":114,"transform":[{"filter":"datum.p==9"}],
   "encoding":{"x":{"field":"x","type":"quantitative","scale":{"domain":[1,20],"nice":false,"zero":false},"axis":{"values":[2,4,6,8,10,12,14,16,18]}},"y":{"field":"y","type":"quantitative","scale":{"domain":[-0.42,5.52],"nice":false,"zero":false},"axis":{"values":[0,1,2,3,4,5]}}},
   "layer":[
    {"mark":{"type":"line","strokeWidth":1.2,"clip":true},"encoding":{"color":{"field":"s","type":"nominal","legend":{"title":null,"legendX":113,"legendY":43,"rowPadding":-3.5,"padding":1.5,"labelExpr":"''","encode":{"symbols":{"update":{"shape":{"signal":"datum.value=='a'?'M-1,0H12M7.1,0A1.6,1.6 0 1,1 3.9,0A1.6,1.6 0 1,1 7.1,0ZM22.3,0':datum.value=='c'?'M-1,0H12M5.5,-2V2M22.3,0':'M-1,0H12M4.4,-1.1H6.6V1.1H4.4ZM22.3,0'"},"fill":{"signal":"datum.value=='a'?'#000000':datum.value=='b'?'#e8141a':datum.value=='c'?'#2ee02e':'#1a1ae6'"},"stroke":{"signal":"datum.value=='a'?'#000000':datum.value=='b'?'#e8141a':datum.value=='c'?'#2ee02e':'#1a1ae6'"},"strokeWidth":{"value":1.2},"opacity":{"value":1}}}}}}}},
    {"mark":{"type":"point","filled":false,"strokeWidth":0.9,"opacity":1,"clip":true},"encoding":{"color":{"field":"s","type":"nominal"},"fill":{"field":"s","type":"nominal","legend":null},"shape":{"field":"s","type":"nominal","legend":null},"size":{"field":"s","type":"ordinal","scale":{"range":[9,4,16,4]},"legend":null}}}
   ]},
  {"width":147,"height":114,"transform":[{"filter":"datum.p==10"}],
   "encoding":{"x":{"field":"x","type":"quantitative","scale":{"domain":[1,10],"nice":false,"zero":false},"axis":{"values":[2,3,4,5,6,7,8,9]}},"y":{"field":"y","type":"quantitative","scale":{"domain":[-0.41,5.37],"nice":false,"zero":false},"axis":{"values":[0,1,2,3,4,5]}}},
   "layer":[
    {"mark":{"type":"line","strokeWidth":1.2,"clip":true},"encoding":{"color":{"field":"s","type":"nominal","legend":{"title":null,"legendX":114,"legendY":82,"rowPadding":-3.5,"padding":1.5,"labelExpr":"''","encode":{"symbols":{"update":{"shape":{"signal":"datum.value=='a'?'M-1,0H12M7.1,0A1.6,1.6 0 1,1 3.9,0A1.6,1.6 0 1,1 7.1,0ZM22.3,0':datum.value=='c'?'M-1,0H12M5.5,-2V2M22.3,0':'M-1,0H12M4.4,-1.1H6.6V1.1H4.4ZM22.3,0'"},"fill":{"signal":"datum.value=='a'?'#000000':datum.value=='b'?'#e8141a':datum.value=='c'?'#2ee02e':'#1a1ae6'"},"stroke":{"signal":"datum.value=='a'?'#000000':datum.value=='b'?'#e8141a':datum.value=='c'?'#2ee02e':'#1a1ae6'"},"strokeWidth":{"value":1.2},"opacity":{"value":1}}}}}}}},
    {"mark":{"type":"point","filled":false,"strokeWidth":0.9,"opacity":1,"clip":true},"encoding":{"color":{"field":"s","type":"nominal"},"fill":{"field":"s","type":"nominal","legend":null},"shape":{"field":"s","type":"nominal","legend":null},"size":{"field":"s","type":"ordinal","scale":{"range":[9,4,16,4]},"legend":null}}}
   ]}
 ]}
]
}
